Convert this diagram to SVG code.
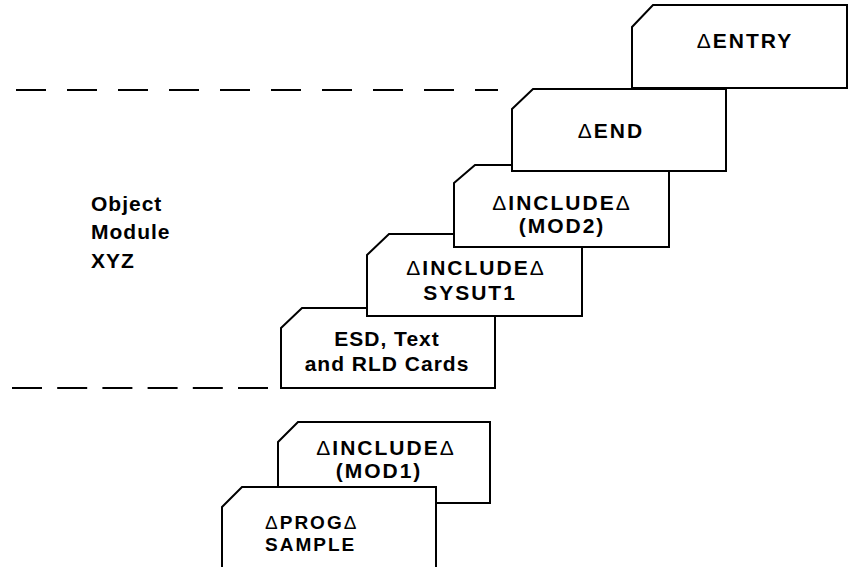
<svg xmlns="http://www.w3.org/2000/svg" width="849" height="567" viewBox="0 0 849 567">
<style>
.card{fill:#fff;stroke:#000;stroke-width:2;stroke-linejoin:miter}
.t{font-family:"Liberation Sans",Arial,sans-serif;font-weight:bold;font-size:21px;letter-spacing:2px;fill:#000}
.c{text-anchor:middle}
.d{font-weight:normal}
.s{font-size:19px}
.dash{stroke:#000;stroke-width:2;fill:none;stroke-dasharray:30 21}
</style>
<rect width="849" height="567" fill="#fff"/>
<g id="connectors">
<line class="dash" x1="16" y1="90" x2="498" y2="90"/>
<line class="dash" x1="12" y1="388" x2="268" y2="388" style="stroke-dasharray:30 15.2"/>
</g>
<g id="label-object-module">
<text class="t" x="91" y="211" style="letter-spacing:1px">Object</text>
<text class="t" x="91" y="239" style="letter-spacing:1px">Module</text>
<text class="t" x="91" y="268" style="letter-spacing:1px">XYZ</text>
</g>
<g id="card-esd">
<path class="card" d="M281,328 L302,308 L495,308 L495,388 L281,388 Z"/>
<text class="t c" x="387" y="346" style="letter-spacing:1px">ESD, Text</text>
<text class="t c" x="387" y="371" style="letter-spacing:1px">and RLD Cards</text>
</g>
<g id="card-sysut1">
<path class="card" d="M367,255 L389,234 L582,234 L582,316 L367,316 Z"/>
<text class="t c" x="476" y="275"><tspan class="d">Δ</tspan>INCLUDE<tspan class="d">Δ</tspan></text>
<text class="t c" x="470" y="300">SYSUT1</text>
</g>
<g id="card-mod2">
<path class="card" d="M454,183 L475,165 L669,165 L669,247 L454,247 Z"/>
<text class="t c" x="562" y="210"><tspan class="d">Δ</tspan>INCLUDE<tspan class="d">Δ</tspan></text>
<text class="t c" x="562" y="233">(MOD2)</text>
</g>
<g id="card-end">
<path class="card" d="M512,109 L533,89 L726,89 L726,171 L512,171 Z"/>
<text class="t c" x="611" y="138"><tspan class="d">Δ</tspan>END</text>
</g>
<g id="card-entry">
<path class="card" d="M632,27 L653,5 L847,5 L847,88 L632,88 Z"/>
<text class="t c" x="745" y="48"><tspan class="d">Δ</tspan>ENTRY</text>
</g>
<g id="card-mod1">
<path class="card" d="M278,442 L298,422 L490,422 L490,503 L278,503 Z"/>
<text class="t c" x="386" y="455"><tspan class="d">Δ</tspan>INCLUDE<tspan class="d">Δ</tspan></text>
<text class="t c" x="379" y="478">(MOD1)</text>
</g>
<g id="card-prog">
<path class="card" d="M222,507 L242,487 L436,487 L436,580 L222,580 Z"/>
<text class="t s" x="265" y="529"><tspan class="d">Δ</tspan>PROG<tspan class="d">Δ</tspan></text>
<text class="t s" x="265" y="551">SAMPLE</text>
</g>
</svg>
